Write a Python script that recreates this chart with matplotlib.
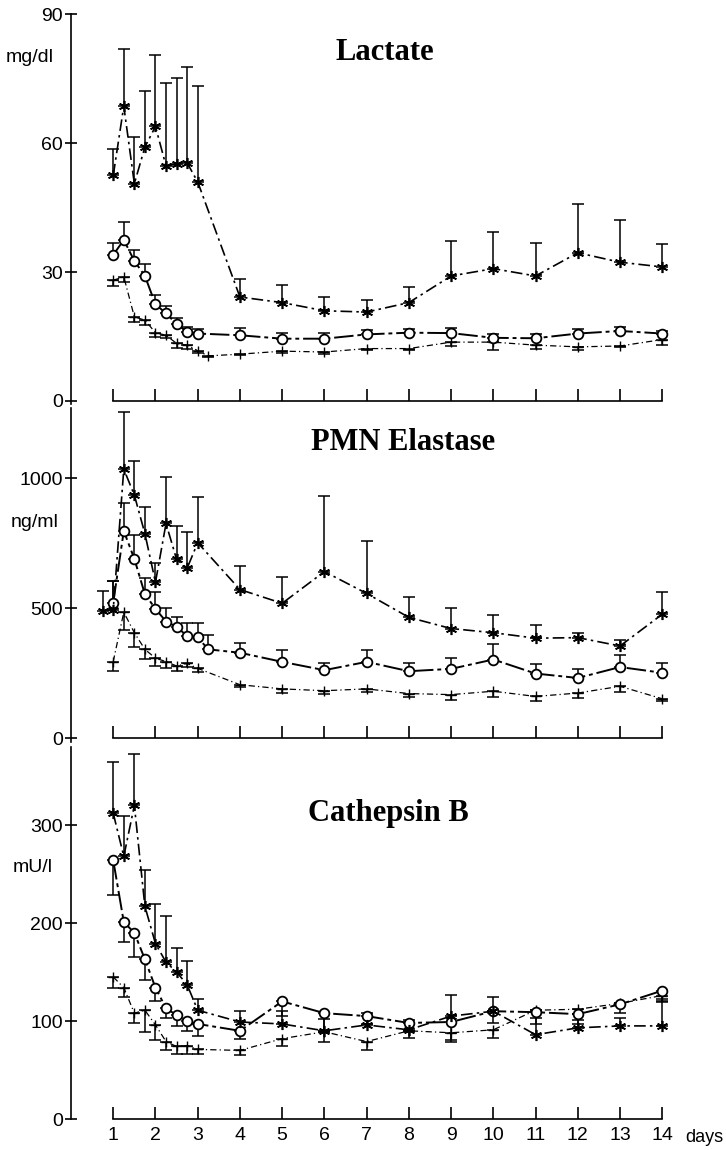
import matplotlib
matplotlib.use('Agg')
import matplotlib.pyplot as plt

plt.rcParams['font.family'] = ['Liberation Sans', 'DejaVu Sans']

early = [1, 1.25, 1.5, 1.75, 2, 2.25, 2.5, 2.75, 3]
late = [4, 5, 6, 7, 8, 9, 10, 11, 12, 13, 14]

# Lactate, mg/dl
lac_star_days = early + late
lac_star = [52.5, 68.6, 50.6, 59.1, 63.9, 54.7, 55.1, 55.4, 51.0, 24.2, 22.9,
            21.0, 20.7, 22.9, 29.1, 30.8, 29.1, 34.5, 32.3, 31.2]
lac_star_err = [6.2, 13.4, 10.8, 13.1, 16.7, 19.4, 20.0, 22.4, 22.2, 4.2, 4.2,
                3.3, 2.9, 3.7, 8.1, 8.6, 7.7, 11.3, 9.9, 5.4]
lac_circ_days = early + late
lac_circ = [34.0, 37.5, 32.6, 29.1, 22.5, 20.4, 17.9, 16.1, 15.7, 15.3, 14.5,
            14.5, 15.5, 15.9, 15.8, 14.7, 14.6, 15.7, 16.3, 15.7]
lac_circ_err = [2.7, 4.1, 2.5, 2.8, 2.2, 1.8, 1.5, 1.2, 1.0, 1.8, 1.3,
                1.3, 1.0, 0.8, 1.2, 0.8, 1.0, 1.0, 0.9, 0.7]
lac_plus_days = early + [3.25] + late
lac_plus = [28.1, 28.9, 19.6, 18.8, 15.9, 15.3, 13.4, 13.0, 11.7, 10.5, 10.9,
            11.6, 11.4, 12.2, 12.2, 13.7, 13.7, 13.0, 12.6, 12.8, 14.3]
lac_plus_err = [1.4, 1.2, 1.3, 1.0, 1.1, 0.7, 1.0, 0.8, 0.5, 0.3, 0.3,
                0.5, 0.5, 0.4, 0.4, 0.9, 1.8, 0.9, 0.8, 0.3, 1.2]

# PMN Elastase, ng/ml
pmn_star_days = [0.75] + early + late
pmn_star = [489, 495, 1035, 935, 787, 600, 826, 688, 654, 752, 572,
            519, 641, 557, 465, 422, 406, 385, 387, 355, 477]
pmn_star_err = [76, 108, 218, 132, 104, 75, 179, 128, 139, 174, 91,
                100, 291, 200, 80, 79, 70, 49, 17, 23, 84]
pmn_circ_days = early + [3.25] + late
pmn_circ = [522, 797, 690, 554, 498, 449, 429, 393, 388, 342, 329,
            294, 262, 294, 258, 267, 303, 249, 232, 274, 252]
pmn_circ_err = [81, 109, 91, 61, 66, 51, 39, 50, 55, 55, 39,
                45, 28, 44, 32, 43, 58, 35, 33, 45, 36]
pmn_plus_days = early + late
pmn_plus = [295, 485, 406, 342, 308, 295, 278, 288, 269, 206, 190,
            183, 190, 172, 168, 181, 161, 174, 200, 152]
pmn_plus_err = [36, 68, 56, 36, 30, 23, 19, 15, 15, 9, 15,
                12, 12, 14, 19, 23, 19, 19, 23, 10]

# Cathepsin B, mU/l
cat_star_days = early + late
cat_star = [312, 268, 320, 217, 179, 160, 150, 137, 111, 99, 97,
            90, 96, 91, 105, 110, 86, 93, 95, 95]
cat_star_err = [52, 41, 52, 37, 40, 47, 25, 24, 11, 11, 13,
                12, 12, 10, 22, 14, 25, 8, 8, 27]
cat_circ_days = early + late
cat_circ = [264, 201, 190, 163, 134, 113, 106, 100, 97, 90, 120,
            108, 105, 98, 99, 110, 109, 107, 117, 131]
cat_circ_err = [35, 20, 25, 21, 14, 10, 11, 10, 12, 8, 15,
                18, 8, 8, 18, 12, 12, 10, 9, 12]
cat_plus_days = early + late
cat_plus = [145, 134, 108, 111, 96, 79, 74, 75, 71, 70, 82,
            89, 79, 90, 88, 91, 111, 112, 118, 126]
cat_plus_err = [11, 10, 10, 22, 15, 9, 8, 9, 5, 5, 8,
                10, 9, 7, 9, 8, 8, 5, 0, 6]

STYLES = {
    'star': dict(marker=(6, 2, 0), ms=8, mew=1.2, lw=1.2, dashes=(7, 2.5, 1.5, 2.5)),
    'circ': dict(marker='o', ms=7, mew=1.3, lw=1.4, mfc='white', dashes=(10, 2, 2, 2)),
    'plus': dict(marker='+', ms=7, mew=1.0, lw=0.9, dashes=(5, 2.5, 1, 2.5)),
}


def draw_series(ax, days, vals, err, kind, down=False):
    zero = [0] * len(err)
    yerr = [err, zero] if down else [zero, err]
    ax.errorbar(days, vals, yerr=yerr, fmt='none', ecolor='k', elinewidth=1.1,
                capsize=4, capthick=1.1, clip_on=False)
    st = STYLES[kind]
    ax.plot(days, vals, color='k', mec='k', clip_on=False, zorder=3, **st)


def setup(ax, ylim, yticks, xlabels):
    ax.set_xlim(0, 15.5)
    ax.set_ylim(*ylim)
    ax.patch.set_alpha(0)
    ax.spines['top'].set_visible(False)
    ax.spines['right'].set_visible(False)
    ax.spines['bottom'].set_position(('data', 0))
    ax.spines['bottom'].set_bounds(1, 14)
    ax.spines['bottom'].set_linewidth(1.2)
    ax.spines['left'].set_linewidth(1.2)
    ax.set_xticks(range(1, 15))
    ax.tick_params(axis='x', direction='in', length=9, width=1.2, labelsize=14,
                   pad=6, labelbottom=xlabels)
    ax.set_yticks(yticks)
    ax.tick_params(axis='y', direction='inout', length=8, width=1.2, labelsize=14, pad=2)


W, H = 726, 1150
fig = plt.figure(figsize=(W / 100, H / 100), dpi=100)


def px_axes(top, bottom):
    return fig.add_axes([71 / W, 1 - bottom / H, (725.6 - 71) / W, (bottom - top) / H])


ax1 = px_axes(14.3, 404)
ax2 = px_axes(408, 742)
ax3 = px_axes(747, 1119)

setup(ax1, (-0.7, 90), [0, 30, 60, 90], False)
setup(ax2, (-14.2, 1270), [0, 500, 1000], False)
setup(ax3, (0, 379.6), [0, 100, 200, 300], True)

draw_series(ax1, lac_plus_days, lac_plus, lac_plus_err, 'plus', down=True)
draw_series(ax1, lac_circ_days, lac_circ, lac_circ_err, 'circ')
draw_series(ax1, lac_star_days, lac_star, lac_star_err, 'star')

draw_series(ax2, pmn_plus_days, pmn_plus, pmn_plus_err, 'plus', down=True)
draw_series(ax2, pmn_circ_days, pmn_circ, pmn_circ_err, 'circ')
draw_series(ax2, pmn_star_days, pmn_star, pmn_star_err, 'star')

draw_series(ax3, cat_plus_days, cat_plus, cat_plus_err, 'plus', down=True)
draw_series(ax3, cat_circ_days, cat_circ, cat_circ_err, 'circ', down=True)
draw_series(ax3, cat_star_days, cat_star, cat_star_err, 'star')

title_kw = dict(ha='center', va='center', fontsize=22, fontweight='bold',
                family='Liberation Serif')
ax1.text(7.42, 81.2, 'Lactate', **title_kw)
ax2.text(7.86, 1136, 'PMN Elastase', **title_kw)
ax3.text(7.51, 312, 'Cathepsin B', **title_kw)

fig.text(30 / W, 1 - 58 / H, 'mg/dl', ha='center', va='center', fontsize=14)
fig.text(35 / W, 1 - 523 / H, 'ng/ml', ha='center', va='center', fontsize=14)
fig.text(33 / W, 1 - 867 / H, 'mU/l', ha='center', va='center', fontsize=14)
fig.text(685 / W, 1 - 1138 / H, 'days', ha='left', va='center', fontsize=13)

fig.savefig('out.png', dpi=100)
